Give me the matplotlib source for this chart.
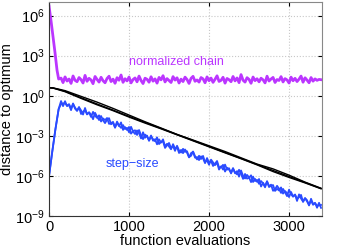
import numpy as np
import matplotlib
matplotlib.use("Agg")
import matplotlib.pyplot as plt

# ===== データ（図から読み取った log10 の値）=====
# normalized chain (magenta): 急降下部分 + x=150..3400 の揺らぎ
chain_x_head = [0, 25, 50, 75, 100, 120]
chain_head = [6.7, 5.6, 4.4, 3.2, 1.9, 1.25]
chain_noise = [
    1.32, 0.98, 1.41, 1.10, 1.25, 0.92, 1.48, 1.15, 1.05, 1.36,
    1.20, 0.95, 1.52, 1.08, 1.30, 1.18, 0.90, 1.44, 1.22, 1.02,
    1.38, 1.12, 0.97, 1.29, 1.46, 1.06, 1.24, 0.93, 1.35, 1.16,
    1.55, 1.00, 1.27, 1.11, 1.40, 0.96, 1.21, 1.33, 1.04, 1.47,
    1.14, 0.91, 1.31, 1.23, 1.01, 1.42, 1.09, 1.26, 0.94, 1.37,
    1.19, 1.50, 1.03, 1.28, 1.13, 0.99, 1.43, 1.17, 1.34, 0.95,
    1.24, 1.06, 1.39, 1.21, 0.92, 1.30, 1.45, 1.08, 1.18, 1.02,
    1.36, 1.26, 0.97, 1.41, 1.12, 1.32, 1.00, 1.23, 1.49, 1.07,
    1.15, 1.38, 0.94, 1.29, 1.20, 1.05, 1.44, 1.11, 1.33, 0.98,
    1.58, 1.16, 1.02, 1.35, 1.22, 0.93, 1.40, 1.13, 1.27, 1.04,
    1.31, 1.19, 0.96, 1.46, 1.10, 1.25, 1.37, 0.99, 1.21, 1.14,
    1.43, 1.03, 1.28, 1.18, 0.95, 1.39, 1.12, 1.30, 1.06, 1.24,
    1.47, 1.01, 1.34, 1.17, 0.97, 1.36, 1.09, 1.26, 1.15, 1.22, 1.20,
]

# step-size (blue): 立ち上がり + 2 回分の揺らぎ (x=150..3400)
step_x_head = [0, 40, 80, 120]
step_head = [-6.0, -4.2, -2.5, -1.0]
step_run1 = [
    -0.40, -0.78, -0.41, -0.78, -0.69, -1.08, -0.58, -0.97, -1.13, -0.88,
    -1.10, -1.41, -0.92, -1.40, -1.24, -1.42, -1.76, -1.28, -1.56, -1.82,
    -1.52, -1.84, -2.05, -1.79, -1.68, -2.14, -2.02, -2.39, -2.03, -2.28,
    -2.00, -2.56, -2.35, -2.57, -2.34, -2.84, -2.65, -2.59, -2.94, -2.57,
    -2.96, -3.25, -2.91, -3.05, -3.33, -2.98, -3.37, -3.26, -3.64, -3.27,
    -3.51, -3.27, -3.79, -3.60, -3.81, -4.01, -3.63, -3.95, -3.84, -4.29,
    -4.06, -4.30, -4.03, -4.27, -4.62, -4.30, -4.21, -4.64, -4.60, -4.82,
    -4.54, -4.70, -5.05, -4.67, -5.02, -4.88, -5.26, -5.09, -4.89, -5.37,
    -5.35, -5.18, -5.68, -5.39, -5.54, -5.75, -5.42, -5.81, -5.65, -6.06,
    -5.60, -6.00, -6.20, -5.93, -6.12, -6.47, -6.06, -6.39, -6.31, -6.60,
    -6.39, -6.57, -6.86, -6.42, -6.84, -6.75, -6.69, -7.13, -6.97, -7.10,
    -6.87, -7.33, -7.14, -7.30, -7.59, -7.21, -7.54, -7.42, -7.72, -7.60,
    -7.43, -7.95, -7.68, -7.91, -8.17, -7.84, -8.17, -8.06, -8.23, -8.22, -8.18,
]
step_run2 = [
    -0.62, -0.58, -0.57, -0.74, -0.63, -0.96, -0.63, -0.89, -1.12, -0.85,
    -1.37, -1.20, -1.08, -1.38, -1.26, -1.59, -1.21, -1.50, -1.66, -1.47,
    -1.93, -1.70, -1.83, -1.67, -2.11, -2.05, -1.96, -2.38, -1.94, -2.23,
    -2.41, -2.20, -2.49, -2.41, -2.74, -2.33, -2.68, -2.87, -2.60, -2.80,
    -3.20, -2.74, -3.15, -2.99, -3.38, -3.05, -3.26, -3.41, -3.12, -3.62,
    -3.45, -3.43, -3.91, -3.71, -3.54, -3.92, -3.78, -4.13, -3.75, -4.10,
    -4.26, -3.98, -4.20, -4.16, -4.59, -4.50, -4.18, -4.53, -4.77, -4.50,
    -4.74, -4.51, -4.96, -4.85, -5.17, -4.79, -4.99, -5.20, -5.01, -5.53,
    -5.29, -5.53, -5.16, -5.54, -5.43, -5.82, -5.47, -5.75, -5.89, -5.55,
    -5.84, -6.23, -5.86, -6.21, -6.15, -5.96, -6.46, -6.23, -6.45, -6.24,
    -6.80, -6.52, -6.77, -6.41, -6.78, -6.66, -7.12, -7.01, -6.75, -6.96,
    -7.28, -6.98, -7.24, -7.52, -7.04, -7.38, -7.56, -7.40, -7.88, -7.39,
    -7.70, -7.92, -7.67, -7.83, -8.22, -7.72, -8.11, -8.02, -8.39, -8.02, -8.40,
]

# 黒の 3 本
black_x = [0, 50, 100, 200, 400, 600, 800, 1000, 1200, 1400,
           1600, 1800, 2000, 2200, 2400, 2600, 2800, 3000, 3200, 3400]
black_run1 = [0.60, 0.58, 0.50, 0.33, -0.15, -0.62, -1.08, -1.55, -2.00, -2.45,
              -2.90, -3.35, -3.80, -4.25, -4.70, -5.15, -5.60, -6.05, -6.50, -6.95]
black_run2 = [0.60, 0.58, 0.52, 0.38, -0.05, -0.48, -0.95, -1.45, -1.95, -2.42,
              -2.90, -3.32, -3.75, -4.18, -4.65, -5.12, -5.48, -5.95, -6.47, -6.93]
black_run3 = [0.60, 0.57, 0.48, 0.30, -0.20, -0.68, -1.12, -1.60, -2.05, -2.48,
              -2.93, -3.38, -3.83, -4.28, -4.72, -5.18, -5.68, -6.12, -6.53, -6.97]

xticks = [0, 1000, 2000, 3000]
yticks_exp = [-9, -6, -3, 0, 3, 6]

MAGENTA = "#bb36ff"
BLUE = "#2a4bff"

plt.rcParams["font.family"] = ["Liberation Sans", "DejaVu Sans"]
plt.rcParams["mathtext.fontset"] = "custom"
plt.rcParams["mathtext.rm"] = "Liberation Sans"
plt.rcParams["mathtext.it"] = "Liberation Sans:italic"

fig = plt.figure(figsize=(3.58, 2.49), dpi=100)
ax = fig.add_axes([0.137, 0.133, 0.762, 0.858])

# ===== 描画 =====
chain_x = chain_x_head + list(np.linspace(150, 3400, len(chain_noise)))
ax.plot(chain_x, 10.0 ** np.array(chain_head + chain_noise), color=MAGENTA, lw=2.0)

step_x = step_x_head + list(np.linspace(150, 3400, len(step_run1)))
ax.plot(step_x, 10.0 ** np.array(step_head + step_run1), color=BLUE, lw=1.3)
ax.plot(step_x, 10.0 ** np.array(step_head + step_run2), color=BLUE, lw=1.3)

for run in [black_run1, black_run2, black_run3]:
    ax.plot(black_x, 10.0 ** np.array(run), color="black", lw=1.0)

ax.text(1590, 10 ** 2.55, "normalized chain", color=MAGENTA, fontsize=9,
        ha="center", va="center")
ax.text(1040, 10 ** -5.1, "step\u2212size", color=BLUE, fontsize=9,
        ha="center", va="center")

ax.set_yscale("log")
ax.set_xlim(0, 3410)
ax.set_ylim(1e-9, 1e7)
ax.set_xticks(xticks)
ax.set_yticks([10.0 ** e for e in yticks_exp])
ax.set_yticklabels([f"$10^{{{e}}}$".replace("-", "\u2212") for e in yticks_exp])
ax.minorticks_off()
ax.tick_params(direction="in", length=3, top=True, right=True, labelsize=10.5,
               pad=3)
ax.grid(True, linestyle=":", color="#c8c8c8", linewidth=0.8)

for s in ["left", "bottom"]:
    ax.spines[s].set_color("#333333")
for s in ["top", "right"]:
    ax.spines[s].set_color("#888888")

ax.set_xlabel("function evaluations", fontsize=10.5, labelpad=0)
ax.set_ylabel("distance to optimum", fontsize=10.5, labelpad=1)

fig.savefig("out.png", dpi=100)
